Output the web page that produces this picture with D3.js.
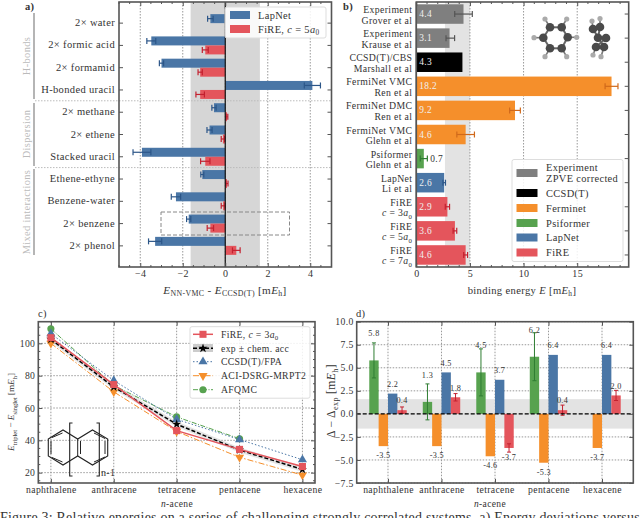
<!DOCTYPE html>
<html>
<head>
<meta charset="utf-8">
<script src="https://cdnjs.cloudflare.com/ajax/libs/d3/7.8.5/d3.min.js"></script>
<style>
body { margin:0; background:#fff; overflow:hidden; }
svg { display:block; }
text { font-family:"Liberation Serif", serif; fill:#333; letter-spacing:.35px; }
.grid { stroke:#999; stroke-width:1; stroke-dasharray:1.5,1.5; }
.frame { fill:none; stroke:#555; stroke-width:1.6; }
.tick line { stroke:#555; }
.tick text { font-size:10px; }
.small .tick text { font-size:9.7px; }
</style>
</head>
<body>
<script>
// panel a
var systems = ["2× water","2× formic acid","2× formamid","H-bonded uracil","2× methane","2× ethene","Stacked uracil","Ethene-ethyne","Benzene-water","2× benzene","2× phenol"];
var lapnetA = [-0.7,-3.48,-3.0,4.1,-0.53,-0.74,-3.92,-1.08,-2.32,-1.72,-3.3];
var lapnetAErr = [0.13,0.21,0.1,0.38,0.1,0.12,0.42,0.07,0.22,0.1,0.31];
var fireA = [0,-0.94,-1.18,-1.18,0.08,-0.11,-0.94,0.08,-0.1,-0.7,0.52];
var fireAErr = [0,0.14,0.1,0.2,0.04,0.08,0.22,0.05,0.09,0.15,0.18];
var xTicksA = [-4,-2,0,2,4];

// panel b
var methodLines = [["Experiment","Grover et al"],["Experiment","Krause et al"],["CCSD(T)/CBS","Marshall et al"],["FermiNet VMC","Ren et al"],["FermiNet DMC","Ren et al"],["FermiNet VMC","Glehn et al"],["Psiformer","Glehn et al"],["LapNet","Li et al"],["FiRE","c = 3a"],["FiRE","c = 5a"],["FiRE","c = 7a"]];
var binding = [4.4,3.1,4.3,18.2,9.2,4.6,0.7,2.6,2.9,3.6,4.6];
var bindingErr = [0.82,0.4,0,0.6,0.5,0.82,0.33,0.12,0.2,0.17,0.18];
var bindingKind = ["exp","exp","cc","fn","fn","fn","psi","lap","fire","fire","fire"];
var xTicksB = [0,5,10,15];

// panel c
var acenes = ["naphthalene","anthracene","tetracene","pentacene","hexacene"];
var fireC = [103.5,74.5,46,34.4,23.8];
var expC = [102.5,73,50,34,22];
var ccsdC = [106,77,53,40.5,28];
var aciC = [100,70,45.5,29.5,18.5];
var afqmcC = [109,74,54.5,41];
var expAcc = 1.6;
var yTicksC = [20,40,60,80,100];

// panel d
var psiD = [5.8,1.3,4.5,6.2];
var psiDErr = [1.9,1.95,2.55,2.6];
var fnD = [-3.5,-3.5,-4.6,-5.3,-3.7];
var lapD = [2.2,4.5,3.7,6.4,6.4];
var fireD = [0.4,1.8,-3.7,0.4,2.0];
var fireDErr = [0.35,0.4,0.45,0.55,0.55];
var yTicksD = [-7.5,-5,-2.5,0,2.5,5,7.5,10];

var colors = {exp:"#7f7f7f",cc:"#000",fn:"#f58f2b",psi:"#57a24f",lap:"#4a76a6",fire:"#e4555c"};
var errColors = {exp:"#555",cc:"#000",fn:"#d0691b",psi:"#2f7d32",lap:"#2c5688",fire:"#c3202f"};

var svg = d3.select("body").append("svg").attr("width",640).attr("height",518);

// writes pieces of a label: plain strings, or [text, "i"] italics, [text, "s"] subscript
function rich(t, parts) {
	var back = 0;
	parts.forEach(function(p){
		var s = typeof p == "string" ? [p,""] : p;
		var span = t.append("tspan").text(s[0]);
		var sub = s[1].indexOf("s") >= 0;
		if (s[1].indexOf("i") >= 0) span.style("font-style","italic");
		if (sub) span.style("font-size","0.7em");
		span.attr("dy",(sub ? 2.5 : 0)-back);
		back = sub ? 2.5 : 0;
	});
	return t;
}

function label(g, x, y, size, anchor) {
	return g.append("text").attr("x",x).attr("y",y).attr("font-size",size).attr("text-anchor",anchor || "middle");
}

function frame(g, x, y) {
	var x0 = x.range()[0], x1 = x.range()[1], y0 = y.range()[0], y1 = y.range()[1];
	g.append("rect").attr("class","frame").attr("x",x0).attr("y",y1).attr("width",x1-x0).attr("height",y0-y1);
}

function minorX(g, x, yy, len, minor) {
	g.selectAll(null).data(minor).enter().append("line")
		.attr("x1",function(d){return x(d);}).attr("x2",function(d){return x(d);})
		.attr("y1",yy).attr("y2",yy+len).attr("stroke","#555");
}

function ticksX(g, x, y, values, fmt, minor) {
	var y0 = y.range()[0], y1 = y.range()[1];
	var ax = g.append("g").attr("transform","translate(0,"+y0+")")
		.call(d3.axisBottom(x).tickValues(values).tickFormat(fmt).tickSizeInner(-4).tickPadding(3));
	ax.select(".domain").remove();
	g.append("g").attr("transform","translate(0,"+y1+")")
		.call(d3.axisTop(x).tickValues(values).tickFormat("").tickSizeInner(-4))
		.select(".domain").remove();
	minorX(g, x, y0, -2, minor);
	minorX(g, x, y1, 2, minor);
}

function ticksY(g, x, y, values, fmt, minor) {
	var x0 = x.range()[0], x1 = x.range()[1];
	var ax = g.append("g").attr("transform","translate("+x0+",0)")
		.call(d3.axisLeft(y).tickValues(values).tickFormat(fmt).tickSizeInner(-4).tickPadding(3));
	ax.select(".domain").remove();
	g.append("g").attr("transform","translate("+x1+",0)")
		.call(d3.axisRight(y).tickValues(values).tickFormat("").tickSizeInner(-4))
		.select(".domain").remove();
	minor.forEach(function(d){
		g.append("line").attr("x1",x0).attr("x2",x0+2).attr("y1",y(d)).attr("y2",y(d)).attr("stroke","#555");
		g.append("line").attr("x1",x1).attr("x2",x1-2).attr("y1",y(d)).attr("y2",y(d)).attr("stroke","#555");
	});
}

function errH(g, x, cy, v, e, col) {
	g.append("line").attr("x1",x(v-e)).attr("x2",x(v+e)).attr("y1",cy).attr("y2",cy).attr("stroke",col).attr("stroke-width",1.2);
	[v-e,v+e].forEach(function(k){
		g.append("line").attr("x1",x(k)).attr("x2",x(k)).attr("y1",cy-3).attr("y2",cy+3).attr("stroke",col).attr("stroke-width",1.2);
	});
}

function errV(g, cx, y, v, e, col) {
	g.append("line").attr("x1",cx).attr("x2",cx).attr("y1",y(v-e)).attr("y2",y(v+e)).attr("stroke",col).attr("stroke-width",1);
	[v-e,v+e].forEach(function(k){
		g.append("line").attr("x1",cx-2).attr("x2",cx+2).attr("y1",y(k)).attr("y2",y(k)).attr("stroke",col).attr("stroke-width",1);
	});
}

function legendBox(g, x, y, w, h) {
	g.append("rect").attr("x",x).attr("y",y).attr("width",w).attr("height",h).attr("rx",2)
		.attr("fill","#fff").attr("fill-opacity",0.85).attr("stroke","#ddd").attr("stroke-width",1);
}

function panelA() {
	var g = svg.append("g");
	var x = d3.scaleLinear().domain([-5,5]).range([119,331.5]);
	var yy = d3.scaleLinear().domain([0,1]).range([267,2]);
	var y = d3.scaleBand().domain(systems).range([12,257]);
	var barH = 9;

	g.append("rect").attr("x",x(-1.63)).attr("width",x(1.63)-x(-1.63)).attr("y",2).attr("height",265).attr("fill","#d6d6d6");
	g.selectAll(".grid").data(xTicksA).enter().append("line").attr("class","grid")
		.attr("x1",function(d){return x(d);}).attr("x2",function(d){return x(d);}).attr("y1",2).attr("y2",267);
	[3,6].forEach(function(i){
		var sep = y(systems[i])+y.bandwidth()-0.3;
		g.append("line").attr("x1",35).attr("x2",331.5).attr("y1",sep).attr("y2",sep)
			.attr("stroke","#bbb").attr("stroke-dasharray","1.5,1.5");
	});

	systems.forEach(function(s,i){
		var c = y(s)+y.bandwidth()/2;
		g.append("rect").attr("x",Math.min(x(lapnetA[i]),x(0))).attr("width",Math.abs(x(lapnetA[i])-x(0)))
			.attr("y",c-barH).attr("height",barH).attr("fill",colors.lap);
		g.append("rect").attr("x",Math.min(x(fireA[i]),x(0))).attr("width",Math.abs(x(fireA[i])-x(0)))
			.attr("y",c).attr("height",barH).attr("fill",colors.fire);
		errH(g,x,c-barH/2,lapnetA[i],lapnetAErr[i],errColors.lap);
		if (fireAErr[i]) errH(g,x,c+barH/2,fireA[i],fireAErr[i],errColors.fire);
	});
	g.append("line").attr("x1",x(0)).attr("x2",x(0)).attr("y1",2).attr("y2",267).attr("stroke","#111").attr("stroke-width",1.2);

	// highlight round the benzene dimer
	g.append("rect").attr("x",161).attr("y",212).attr("width",128.5).attr("height",23)
		.attr("fill","none").attr("stroke","#888").attr("stroke-width",1).attr("stroke-dasharray","4,2");

	legendBox(g,225,7,101,31);
	g.append("rect").attr("x",230).attr("y",11).attr("width",20).attr("height",8).attr("fill",colors.lap);
	g.append("rect").attr("x",230).attr("y",25).attr("width",20).attr("height",8).attr("fill",colors.fire);
	label(g,258,18.5,10.4,"start").text("LapNet");
	rich(label(g,258,32.5,10.4,"start"),["FiRE, ",["c","i"]," = 5",["a","i"],["0","s"]]);

	frame(g,x,yy);
	ticksX(g,x,yy,xTicksA,d3.format("d"),d3.range(-5,5.01,0.5).filter(function(d){return d%2 != 0;}));
	systems.forEach(function(s){
		var c = y(s)+y.bandwidth()/2;
		g.append("line").attr("x1",119).attr("x2",123).attr("y1",c).attr("y2",c).attr("stroke","#555");
		g.append("line").attr("x1",331.5).attr("x2",327.5).attr("y1",c).attr("y2",c).attr("stroke","#555");
		label(g,115,c+3,10.5,"end").text(s);
	});

	rich(label(g,225,293.5,11.2),[["E","i"],["NN-VMC","s"]," - ",["E","i"],["CCSD(T)","s"]," [m",["E","i"],["h","s"],"]"]);
	label(g,25,9.5,10.5,"start").attr("font-weight","bold").text("a)");

	[[13,99,"H-bonds",56],[103,166,"Dispersion",134],[169,255,"Mixed interactions",212]].forEach(function(b){
		g.append("line").attr("x1",34).attr("x2",34).attr("y1",b[0]).attr("y2",b[1]).attr("stroke","#b5b5b5").attr("stroke-width",2);
		label(g,0,0,10.4).attr("transform","translate(30,"+b[3]+") rotate(-90)").style("fill","#bbb").text(b[2]);
	});
}

function panelB() {
	var g = svg.append("g");
	var x = d3.scaleLinear().domain([0,19.8]).range([416.3,628.7]);
	var y = d3.scaleBand().domain(d3.range(binding.length)).range([2,267]).paddingInner(0.19).paddingOuter(0.095);
	var yy = d3.scaleLinear().domain([0,1]).range([267,2]);

	g.append("rect").attr("x",x(2.67)).attr("width",x(5)-x(2.67)).attr("y",2).attr("height",265).attr("fill","#e3e3e3");
	g.selectAll(".grid").data(xTicksB.slice(1)).enter().append("line").attr("class","grid")
		.attr("x1",function(d){return x(d);}).attr("x2",function(d){return x(d);}).attr("y1",2).attr("y2",267);

	binding.forEach(function(v,i){
		var k = bindingKind[i], c = y(i)+y.bandwidth()/2;
		g.append("rect").attr("x",x(0)).attr("width",x(v)-x(0)).attr("y",y(i)).attr("height",y.bandwidth()).attr("fill",colors[k]);
		if (bindingErr[i]) errH(g,x,c,i==1 ? v+0.07 : v,bindingErr[i],errColors[k]);
		var small = v < 1;
		label(g,small ? x(v)+6.5 : x(0)+3,c+3,9.4,"start").style("fill",small ? "#333" : "#f0f0f0").text(v.toFixed(1));
		label(g,412.3,c-1,9.75,"end").text(methodLines[i][0]);
		var second = label(g,412.3,c+9.5,9.75,"end");
		if (k == "fire") rich(second,[["c","i"],methodLines[i][1].slice(1,5),["a","i"],["0","s"]]);
		else second.text(methodLines[i][1]);
	});
	g.append("line").attr("x1",x(0)).attr("x2",x(0)).attr("y1",2).attr("y2",267).attr("stroke","#333").attr("stroke-width",1.2);

	molecules(g);

	legendBox(g,512,159.5,111,102);
	var rows = [["exp",173],["cc",193],["fn",208],["psi",223],["lap",237.5],["fire",252.5]];
	rows.forEach(function(r){
		g.append("rect").attr("x",516.5).attr("y",r[1]-4).attr("width",21).attr("height",8).attr("fill",colors[r[0]]);
	});
	label(g,546,171,10.4,"start").text("Experiment");
	label(g,546,182,10.4,"start").text("ZPVE corrected");
	label(g,546,196.5,10.4,"start").text("CCSD(T)");
	label(g,546,211.5,10.4,"start").text("Ferminet");
	label(g,546,226.5,10.4,"start").text("Psiformer");
	label(g,546,241,10.4,"start").text("LapNet");
	label(g,546,256,10.4,"start").text("FiRE");

	frame(g,x,yy);
	ticksX(g,x,yy,xTicksB,d3.format("d"),d3.range(1,19.5,1).filter(function(d){return d%5 != 0;}));
	binding.forEach(function(v,i){
		var c = y(i)+y.bandwidth()/2;
		g.append("line").attr("x1",628.7).attr("x2",624.7).attr("y1",c).attr("y2",c).attr("stroke","#555");
	});
	rich(label(g,522,293.5,10.6),["binding energy ",["E","i"]," [m",["E","i"],["h","s"],"]"]);
	label(g,343,9.5,10.5,"start").attr("font-weight","bold").text("b)");
}

// ball and stick sketches of the molecule, top and side view
function molecules(g) {
	var carbons = [[550,27.3],[561.7,27.3],[567.7,37.3],[561.7,48.3],[550,48.3],[543.3,37.7]];
	var hydrogens = [[545,19],[566.7,19],[576.7,37.3],[566.7,56.7],[545,56.7],[534,37.7]];
	var carbons2 = [[593,29],[600,27],[598,37.7],[606,38],[596,47],[604,47]];
	var hydrogens2 = [[592,21],[600,18.5],[605,37],[606,37],[593,55],[601,56.7]];
	function bonds(cs, hs) {
		cs.forEach(function(c,i){
			var n = cs[(i+1)%cs.length];
			g.append("line").attr("x1",c[0]).attr("y1",c[1]).attr("x2",n[0]).attr("y2",n[1]).attr("stroke","#666").attr("stroke-width",2);
			g.append("line").attr("x1",c[0]).attr("y1",c[1]).attr("x2",hs[i][0]).attr("y2",hs[i][1]).attr("stroke","#777").attr("stroke-width",1.6);
		});
		hs.forEach(function(h){
			g.append("circle").attr("cx",h[0]).attr("cy",h[1]).attr("r",2.6).attr("fill","#aaa");
		});
		cs.forEach(function(c){
			g.append("circle").attr("cx",c[0]).attr("cy",c[1]).attr("r",4.3).attr("fill","#4a4a4a");
		});
	}
	bonds(carbons,hydrogens);
	bonds(carbons2,hydrogens2);
}

function panelC() {
	var g = svg.append("g").attr("class","small");
	var x = d3.scaleLinear().domain([-0.2,4.2]).range([38.3,315]);
	var y = d3.scaleLinear().domain([13.6,113.4]).range([483,321.7]);
	var idx = d3.range(acenes.length);

	idx.forEach(function(i){
		g.append("line").attr("class","grid").attr("x1",x(i)).attr("x2",x(i)).attr("y1",321.7).attr("y2",483);
	});
	yTicksC.forEach(function(d){
		g.append("line").attr("class","grid").attr("x1",38.3).attr("x2",315).attr("y1",y(d)).attr("y2",y(d));
	});

	var area = d3.area().x(function(d,i){return x(i);}).y0(function(d){return y(d-expAcc);}).y1(function(d){return y(d+expAcc);});
	g.append("path").attr("d",area(expC)).attr("fill","#bbb").attr("fill-opacity",0.4);

	var line = d3.line().x(function(d,i){return x(i);}).y(function(d){return y(d);});
	var sym = {
		square:d3.symbol().type(d3.symbolSquare).size(50),
		star:d3.symbol().type(d3.symbolStar).size(26),
		tri:d3.symbol().type(d3.symbolTriangle).size(36),
		circle:d3.symbol().type(d3.symbolCircle).size(40)
	};
	var series = [
		{v:afqmcC,col:colors.psi,w:1,dash:"5,1.5,1,1.5",sym:sym.circle,rot:0,leg:389.7,name:"AFQMC"},
		{v:ccsdC,col:colors.lap,w:1,dash:"1.5,2",sym:sym.tri,rot:0,leg:361.7,name:"CCSD(T)/FPA"},
		{v:aciC,col:colors.fn,w:1,dash:"6,2,1.5,2",sym:sym.tri,rot:180,leg:375.7,name:"ACI-DSRG-MRPT2"},
		{v:expC,col:"#000",w:1.5,dash:"4,2",sym:sym.star,rot:0,leg:348.3,name:"exp ± chem. acc"},
		{v:fireC,col:colors.fire,w:1.5,dash:null,sym:sym.square,rot:0,leg:334.3,name:null}
	];
	series.forEach(function(s){
		g.append("path").attr("d",line(s.v)).attr("fill","none").attr("stroke",s.col).attr("stroke-width",s.w).attr("stroke-dasharray",s.dash);
		g.selectAll(null).data(s.v).enter().append("path").attr("d",s.sym()).attr("fill",s.col)
			.attr("transform",function(d,i){return "translate("+x(i)+","+y(d)+") rotate("+s.rot+")";});
	});

	acene(g);

	legendBox(g,190,326.7,120,71.5);
	g.append("rect").attr("x",193).attr("y",344).attr("width",20).attr("height",8).attr("fill","#ccc");
	series.forEach(function(s){
		g.append("line").attr("x1",193).attr("x2",213).attr("y1",s.leg).attr("y2",s.leg).attr("stroke",s.col).attr("stroke-width",s.w).attr("stroke-dasharray",s.dash);
		g.append("path").attr("d",s.sym()).attr("fill",s.col).attr("transform","translate(203,"+s.leg+") rotate("+s.rot+")");
		if (s.name) label(g,221,s.leg+3.3,9.7,"start").text(s.name);
	});
	rich(label(g,221,337.6,9.7,"start"),["FiRE, ",["c","i"]," = 3",["a","i"],["0","s"]]);

	frame(g,x,y);
	ticksX(g,x,y,idx,function(i){return acenes[i];},[]);
	ticksY(g,x,y,yTicksC,d3.format("d"),d3.range(15,111,5).filter(function(d){return d%20 != 0;}));
	rich(label(g,0,0,9.2).attr("transform","translate(14,412) rotate(-90)").style("letter-spacing","0"),[["E","i"],["triplet","s"]," − ",["E","i"],["singlet","s"]," [m",["E","i"],["h","s"],"]"]);
	rich(label(g,177,506.5,9.5),[["n","i"],"-acene"]);
	label(g,38,316.5,10.5,"start").text("c)");
}

// skeletal formula inset: two fused rings with the repeat bracket
function acene(g) {
	var pts = [[48.3,439],[63,430],[77.7,439],[92.5,430],[107.7,439],[107.7,456],[92.5,465],[77.7,456],[63,465],[48.3,456]];
	var ln = d3.line().x(function(d){return d[0];}).y(function(d){return d[1];}).curve(d3.curveLinearClosed);
	g.append("path").attr("d",ln(pts)).attr("fill","none").attr("stroke","#222").attr("stroke-width",1.1);
	[[[77.7,439],[77.7,456]],[[80.5,441],[80.5,454]],[[51,441],[51,454]],[[52,437.5],[62.5,433]],[[52,457.5],[62.5,462]],[[94,433],[105,438.5]],[[105,441],[105,454]],[[94,462],[105,457]]].forEach(function(s){
		g.append("line").attr("x1",s[0][0]).attr("y1",s[0][1]).attr("x2",s[1][0]).attr("y2",s[1][1]).attr("stroke","#222").attr("stroke-width",1);
	});
	g.append("path").attr("d","M72.5,423H69.7V476H72.5").attr("fill","none").attr("stroke","#222").attr("stroke-width",1.1);
	g.append("path").attr("d","M96.5,423H99.3V476H96.5").attr("fill","none").attr("stroke","#222").attr("stroke-width",1.1);
	label(g,101,476,10,"start").text("n-1");
}

function panelD() {
	var g = svg.append("g").attr("class","small");
	var x = d3.scaleLinear().domain([-0.585,4.585]).range([356.7,633.3]);
	var y = d3.scaleLinear().domain([-7.5,10]).range([483,321.7]);
	var idx = d3.range(acenes.length);
	var w = 0.175;

	yTicksD.forEach(function(d){
		g.append("line").attr("class","grid").attr("x1",356.7).attr("x2",633.3).attr("y1",y(d)).attr("y2",y(d));
	});
	idx.forEach(function(i){
		g.append("line").attr("class","grid").attr("x1",x(i)).attr("x2",x(i)).attr("y1",321.7).attr("y2",483);
	});
	g.append("rect").attr("x",356.7).attr("width",276.6).attr("y",y(1.6)).attr("height",y(-1.6)-y(1.6)).attr("fill","#d9d9d9").attr("fill-opacity",0.75);

	function bars(values, offset, col, dy) {
		values.forEach(function(v,i){
			var l = x(i+offset-w/2);
			g.append("rect").attr("x",l).attr("width",x(i+offset+w/2)-l).attr("y",Math.min(y(v),y(0))).attr("height",Math.abs(y(v)-y(0))).attr("fill",col);
			label(g,l+(x(w)-x(0))/2,y(v)+(v<0 ? 9 : -dy)+2.8,8.2).text(v.toFixed(1));
		});
	}
	bars(psiD,-1.5*w,colors.psi,27);
	bars(fnD,-0.5*w,colors.fn,9.5);
	bars(lapD,0.5*w,colors.lap,9.5);
	bars(fireD,1.5*w,colors.fire,9.5);
	psiD.forEach(function(v,i){ errV(g,x(i-1.5*w),y,v,psiDErr[i],errColors.psi); });
	fireD.forEach(function(v,i){ errV(g,x(i+1.5*w),y,v,fireDErr[i],errColors.fire); });

	g.append("line").attr("x1",356.7).attr("x2",633.3).attr("y1",y(0)).attr("y2",y(0)).attr("stroke","#000").attr("stroke-width",1.4).attr("stroke-dasharray","4,2");

	frame(g,x,y);
	ticksX(g,x,y,idx,function(i){return acenes[i];},[]);
	ticksY(g,x,y,yTicksD,d3.format(".1f"),[]);
	rich(label(g,0,0,11.7).attr("transform","translate(335,401) rotate(-90)"),["Δ − Δ",["exp","s"]," [m",["E","i"],["h","s"],"]"]);
	rich(label(g,490,506.5,9.5),[["n","i"],"-acene"]);
	label(g,356,316.5,10.5,"start").text("d)");
}

panelA();
panelB();
panelC();
panelD();

label(svg,0,521.5,14,"start").attr("textLength",640).attr("lengthAdjust","spacing")
	.text("Figure 3: Relative energies on a series of challenging strongly correlated systems. a) Energy deviations versus");
</script>
</body>
</html>
